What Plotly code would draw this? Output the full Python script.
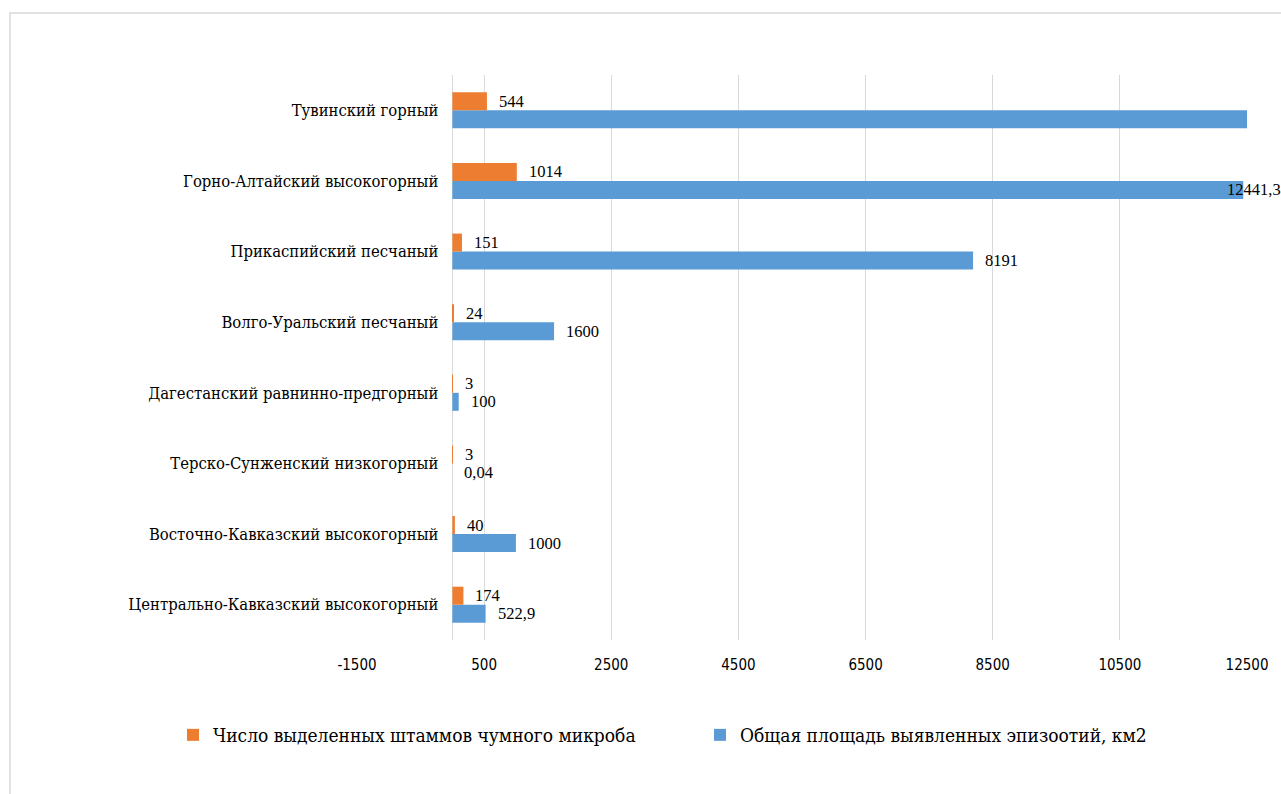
import plotly.graph_objects as go

categories = [
    "Центрально-Кавказский высокогорный",
    "Восточно-Кавказский высокогорный",
    "Терско-Сунженский низкогорный",
    "Дагестанский равнинно-предгорный",
    "Волго-Уральский песчаный",
    "Прикаспийский песчаный",
    "Горно-Алтайский высокогорный",
    "Тувинский горный",
]
strains = [174, 40, 3, 3, 24, 151, 1014, 544]
area = [522.9, 1000, 0.04, 100, 1600, 8191, 12441.3, 12700]
series_names = ["Число выделенных штаммов чумного микроба",
                "Общая площадь выявленных эпизоотий, км2"]
x_ticks = [-1500, 500, 2500, 4500, 6500, 8500, 10500, 12500]

ORANGE = "#ED7D31"
BLUE = "#5B9BD5"
GRID = "#D9D9D9"
SERIF_CYR = "DejaVu Serif Condensed, DejaVu Serif"
SERIF_NUM = "Liberation Serif"
NARROW = "DejaVu Sans Condensed"

W, H = 1281, 794
ML, MR, MT, MB = 357, 34, 75, 154
XMIN, XMAX = -1500, 12500

fig = go.Figure()
fig.add_trace(go.Bar(y=categories, x=area, orientation="h", name=series_names[1],
                     marker=dict(color=BLUE, line=dict(width=0))))
fig.add_trace(go.Bar(y=categories, x=strains, orientation="h", name=series_names[0],
                     marker=dict(color=ORANGE, line=dict(width=0))))


def fmt(v):
    return f"{v:g}".replace(".", ",")


annotations = []
for vals, ysh in ((strains, 9), (area, -9)):
    for cat, v in zip(categories, vals):
        if v > XMAX:
            continue
        near_end = v > 0.95 * XMAX
        annotations.append(dict(
            x=v, y=cat, xref="x", yref="y", text=fmt(v), showarrow=False,
            xanchor="left", yanchor="middle", xshift=-18 if near_end else 10, yshift=ysh,
            font=dict(family=SERIF_NUM, size=16.5, color="#000000")))

plot_w = W - ML - MR
plot_h = H - MT - MB
axis_pos = (0 - XMIN) / (XMAX - XMIN)

fig.update_layout(
    width=W, height=H,
    margin=dict(l=ML, r=MR, t=MT, b=MB, pad=0),
    paper_bgcolor="white", plot_bgcolor="white",
    barmode="group", bargap=0.49, bargroupgap=0,
    showlegend=True,
    legend=dict(orientation="h", traceorder="reversed",
                x=(173 - ML) / plot_w, xanchor="left",
                y=(H - MB - 735) / plot_h, yanchor="middle",
                font=dict(family=SERIF_CYR, size=19, color="#000000"),
                entrywidth=482, bgcolor="rgba(0,0,0,0)"),
    xaxis=dict(range=[XMIN, XMAX], tickvals=x_ticks, ticktext=[str(t) for t in x_ticks],
               showgrid=True, gridcolor=GRID, gridwidth=1.3,
               zeroline=True, zerolinecolor=GRID, zerolinewidth=1.3,
               showline=False, ticks="", ticklabelstandoff=14,
               tickfont=dict(family=NARROW, size=15, color="#000000"), fixedrange=True),
    yaxis=dict(type="category", categoryorder="array", categoryarray=categories,
               anchor="free", position=axis_pos, showgrid=False, zeroline=False,
               showline=False, ticks="", ticklabelstandoff=14,
               tickfont=dict(family=SERIF_CYR, size=16.5, color="#000000"), fixedrange=True),
    annotations=annotations,
    shapes=[dict(type="rect", xref="paper", yref="paper",
                 x0=(10 - ML) / plot_w, x1=(W + 20 - ML) / plot_w,
                 y0=(H - MB - (H + 20)) / plot_h, y1=(H - MB - 13) / plot_h,
                 line=dict(color=GRID, width=1.5), fillcolor="rgba(0,0,0,0)", layer="below")],
)

fig.write_html("out.html")
